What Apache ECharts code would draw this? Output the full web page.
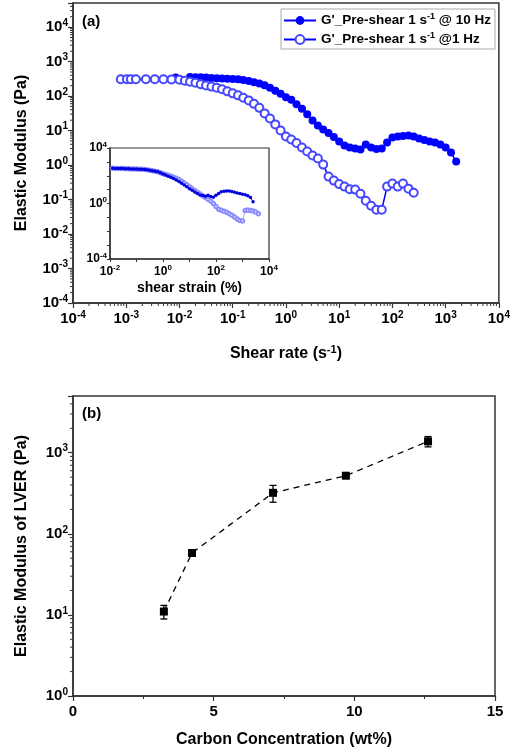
<!DOCTYPE html>
<html>
<head>
<meta charset="utf-8">
<title>Elastic modulus</title>
<script src="https://cdn.jsdelivr.net/npm/echarts@6/dist/echarts.min.js"></script>
<style>
html, body { margin: 0; padding: 0; background: #fff; }
#main { width: 513px; height: 753px; }
</style>
</head>
<body>
<div id="main"></div>
<script>
// (a) G' vs shear rate, 10 Hz (filled)
var rate10 = [0.0085, 0.0158, 0.02, 0.0251, 0.0316, 0.0398, 0.0501, 0.0631, 0.0794, 0.1, 0.126, 0.158, 0.2, 0.251, 0.316, 0.398, 0.501, 0.631, 0.794, 1, 1.26, 1.58, 2, 2.51, 3.16, 3.98, 5.01, 6.31, 7.94, 10, 12.6, 15.8, 20, 25.1, 31.6, 39.8, 50.1, 63.1, 79.4, 100, 126, 158, 200, 251, 316, 398, 501, 631, 794, 1000, 1260, 1580];
var g10 = [344, 356, 354, 351, 344, 337, 331, 326, 320, 313, 307, 291, 272, 251, 232, 206, 174, 142, 116, 92, 78, 57.5, 42.6, 29.5, 19.7, 14.1, 10.8, 8.53, 6.53, 4.83, 3.69, 3.23, 3.02, 2.83, 3.95, 3.23, 2.92, 3.02, 4.52, 6.31, 6.75, 6.98, 7.21, 6.75, 5.9, 5.34, 4.83, 4.52, 3.95, 3.23, 2.31, 1.26];
// (a) G' vs shear rate, 1 Hz (open)
var rate1 = [0.00079, 0.00103, 0.00122, 0.00152, 0.00234, 0.00344, 0.005, 0.0071, 0.01, 0.0126, 0.0158, 0.02, 0.0251, 0.0316, 0.0398, 0.0501, 0.0631, 0.0794, 0.1, 0.126, 0.158, 0.2, 0.251, 0.316, 0.398, 0.501, 0.631, 0.794, 1, 1.26, 1.58, 2, 2.51, 3.16, 3.98, 5.01, 6.31, 7.94, 10, 12.6, 15.8, 20, 25.1, 31.6, 39.8, 50.1, 63.1, 79.4, 100, 126, 158, 200, 251];
var g1 = [307, 307, 306, 307, 306, 307, 306, 305, 297, 278, 260, 243, 220, 203, 188, 174, 157, 137, 120, 105, 89, 75, 59.5, 45.5, 31.5, 22.5, 15.1, 10.1, 6.75, 5.52, 4.37, 3.23, 2.47, 1.89, 1.55, 1.03, 0.462, 0.354, 0.28, 0.237, 0.2, 0.194, 0.148, 0.0927, 0.0664, 0.0507, 0.0507, 0.237, 0.29, 0.237, 0.29, 0.207, 0.158];

// inset: G' vs shear strain
var strain10 = [0.0126, 0.0158, 0.02, 0.0251, 0.0316, 0.0398, 0.0501, 0.0631, 0.0794, 0.1, 0.126, 0.158, 0.2, 0.251, 0.316, 0.398, 0.501, 0.631, 0.794, 1, 1.26, 1.58, 2, 2.51, 3.16, 3.98, 5.01, 6.31, 7.94, 10, 12.6, 15.8, 20, 25.1, 31.6, 39.8, 50.1, 63.1, 79.4, 100, 126, 158, 200, 251, 316, 398, 501, 631, 794, 1000, 1260, 1580, 2000, 2510];
var gs10 = [344, 339, 339, 333, 328, 322, 317, 312, 307, 302, 297, 292, 287, 269, 251, 231, 213, 196, 166, 134, 113, 93, 79, 63, 49.4, 37.9, 29, 21.5, 16, 11.5, 8.93, 6.75, 5.26, 4.1, 3.78, 3.31, 3.96, 3.2, 2.8, 3.9, 5.26, 7.08, 7.69, 7.96, 7.96, 7.33, 6.41, 5.71, 5.17, 4.68, 4.31, 3.59, 2.71, 1.35];
var strain1 = [0.0126, 0.0158, 0.02, 0.0251, 0.0316, 0.0398, 0.0501, 0.0631, 0.0794, 0.1, 0.126, 0.158, 0.2, 0.251, 0.316, 0.398, 0.501, 0.631, 0.794, 1, 1.26, 1.58, 2, 2.51, 3.16, 3.98, 5.01, 6.31, 7.94, 10, 12.6, 15.8, 20, 25.1, 31.6, 39.8, 50.1, 63.1, 79.4, 100, 126, 158, 200, 251, 316, 398, 501, 631, 794, 1000, 1260, 1580, 2000, 2510, 3160, 3980];
var gs1 = [344, 339, 339, 333, 328, 322, 317, 312, 307, 302, 297, 292, 287, 269, 251, 231, 213, 196, 166, 140, 123, 108, 93, 78.6, 65.5, 52.7, 39.8, 30, 22.3, 16.3, 11.9, 8.65, 6.52, 4.84, 3.59, 2.66, 1.97, 1.47, 1, 0.608, 0.382, 0.329, 0.279, 0.236, 0.181, 0.144, 0.106, 0.0764, 0.0596, 0.0548, 0.313, 0.34, 0.313, 0.288, 0.244, 0.181];

// (b) modulus in LVER vs carbon content
var conc = [3.23, 4.23, 7.11, 9.7, 12.62];
var lver = [11, 58, 320, 520, 1380];
var lverErr = [2.1, 5, 75, 30, 200];

// log minor tick multipliers
var minorMult = [2, 3, 4, 5, 6, 7, 8, 9];

var NAME10 = "G'_Pre-shear 1 s-1 @ 10 Hz";
var NAME1 = "G'_Pre-shear 1 s-1 @1 Hz";

var FONT = '"Liberation Sans", Arial, sans-serif';
var AXIS_COLOR = '#333';

function pairs(xs, ys) {
    var out = [];
    for (var i = 0; i < xs.length; i++) {
        out.push([xs[i], ys[i]]);
    }
    return out;
}

var errData = [];
for (var i = 0; i < conc.length; i++) {
    errData.push([conc[i], lver[i] - lverErr[i], lver[i] + lverErr[i]]);
}

// minor tick values between decades fromExp..toExp, below maxVal
function logMinor(fromExp, toExp, maxVal) {
    var out = [];
    for (var e = fromExp; e < toExp; e++) {
        for (var j = 0; j < minorMult.length; j++) {
            var v = minorMult[j] * Math.pow(10, e);
            if (v < maxVal) out.push(v);
        }
    }
    return out;
}

function tickSeries(xi, yi, data, dx, dy) {
    return {
        type: 'custom', xAxisIndex: xi, yAxisIndex: yi, silent: true, z: 1,
        data: data,
        renderItem: function (params, api) {
            var p = api.coord([api.value(0), api.value(1)]);
            return {
                type: 'line',
                shape: { x1: p[0], y1: p[1], x2: p[0] + dx, y2: p[1] + dy },
                style: { stroke: AXIS_COLOR, lineWidth: 1 }
            };
        }
    };
}

// 10^n labels, every "step" decades
function powLabel(step) {
    return function (v) {
        var e = Math.log(v) / Math.LN10;
        var n = Math.round(e);
        if (Math.abs(e - n) > 1e-3) return '';
        if (n % step !== 0) return '';
        return '{b|10}{s|' + n + '}';
    };
}

function supRich(size, supSize) {
    return {
        b: { fontFamily: FONT, fontSize: size, fontWeight: 'bold', color: '#000', lineHeight: size + 3 },
        s: { fontFamily: FONT, fontSize: supSize, fontWeight: 'bold', color: '#000', verticalAlign: 'top', lineHeight: supSize + 2 }
    };
}

var nameStyle = {
    fontFamily: FONT,
    fontSize: 16,
    fontWeight: 'bold',
    color: '#000'
};

function frameAxis(extra) {
    var a = {
        axisLine: { show: true, lineStyle: { color: AXIS_COLOR, width: 1.5 } },
        axisTick: { show: true, length: 5, lineStyle: { color: AXIS_COLOR, width: 1.2 } },
        splitLine: { show: false }
    };
    for (var k in extra) a[k] = extra[k];
    return a;
}

var option = {
    animation: false,
    backgroundColor: '#fff',
    textStyle: { fontFamily: FONT },
    grid: [
        { left: 73, top: 3, width: 427, height: 300, show: true, borderColor: AXIS_COLOR, borderWidth: 1.5, backgroundColor: 'transparent' },
        { left: 110, top: 148, width: 159, height: 111, show: true, borderColor: AXIS_COLOR, borderWidth: 1.2, backgroundColor: '#fff' },
        { left: 73, top: 396, width: 422, height: 300, show: true, borderColor: AXIS_COLOR, borderWidth: 1.5, backgroundColor: 'transparent' }
    ],
    xAxis: [
        frameAxis({
            gridIndex: 0, type: 'log', logBase: 10, min: 1e-4, max: 1e4,
            axisLabel: { formatter: powLabel(1), margin: 7, rich: supRich(15, 10) },
            name: 'Shear rate (s{s|-1})', nameLocation: 'middle', nameGap: 41,
            nameTextStyle: {
                fontFamily: FONT, fontSize: 16, fontWeight: 'bold', color: '#000', lineHeight: 20,
                rich: { s: { fontFamily: FONT, fontSize: 11, fontWeight: 'bold', color: '#000', verticalAlign: 'top', lineHeight: 12 } }
            }
        }),
        frameAxis({
            gridIndex: 1, type: 'log', logBase: 10, min: 1e-2, max: 1e4,
            axisTick: { show: true, length: 3, lineStyle: { color: AXIS_COLOR } },
            axisLabel: { formatter: powLabel(2), margin: 5, rich: supRich(12, 8) },
            name: 'shear strain (%)', nameLocation: 'middle', nameGap: 22,
            nameTextStyle: { fontFamily: FONT, fontSize: 14, fontWeight: 'bold', color: '#000' }
        }),
        frameAxis({
            gridIndex: 2, type: 'value', min: 0, max: 15, interval: 5,
            minorTick: { show: true, splitNumber: 2, length: 3, lineStyle: { color: AXIS_COLOR } },
            axisLabel: { margin: 8, fontFamily: FONT, fontSize: 15, fontWeight: 'bold', color: '#000' },
            name: 'Carbon Concentration (wt%)', nameLocation: 'middle', nameGap: 36,
            nameTextStyle: nameStyle
        })
    ],
    yAxis: [
        frameAxis({
            gridIndex: 0, type: 'log', logBase: 10, min: 1e-4, max: 5e4,
            axisLabel: { formatter: powLabel(1), margin: 5, rich: supRich(15, 10) },
            name: 'Elastic Modulus (Pa)', nameLocation: 'middle', nameGap: 43,
            nameTextStyle: nameStyle
        }),
        frameAxis({
            gridIndex: 1, type: 'log', logBase: 10, min: 1e-4, max: 1e4,
            axisTick: { show: true, length: 3, lineStyle: { color: AXIS_COLOR } },
            axisLabel: { formatter: powLabel(4), margin: 3, rich: supRich(12, 8) }
        }),
        frameAxis({
            gridIndex: 2, type: 'log', logBase: 10, min: 1, max: 5e3,
            axisLabel: { formatter: powLabel(1), margin: 5, rich: supRich(15, 10) },
            name: 'Elastic Modulus of LVER (Pa)', nameLocation: 'middle', nameGap: 43,
            nameTextStyle: nameStyle
        })
    ],
    legend: {
        data: [NAME10, NAME1],
        orient: 'vertical',
        left: 281,
        top: 9,
        padding: [3, 4, 1, 2],
        itemGap: 2,
        itemWidth: 32,
        itemHeight: 11,
        borderColor: '#aaa',
        borderWidth: 1,
        backgroundColor: '#fff',
        textStyle: {
            fontFamily: FONT, fontSize: 13.5, fontWeight: 'bold', color: '#000', lineHeight: 17,
            rich: { s: { fontFamily: FONT, fontSize: 9, fontWeight: 'bold', color: '#000', verticalAlign: 'top', lineHeight: 10 } }
        },
        formatter: function (name) {
            return name.replace('s-1', 's{s|-1}');
        }
    },
    graphic: [
        { type: 'text', left: 82, top: 14, style: { text: '(a)', fontFamily: FONT, fontSize: 15, fontWeight: 'bold', fill: '#000' } },
        { type: 'text', left: 82, top: 406, style: { text: '(b)', fontFamily: FONT, fontSize: 15, fontWeight: 'bold', fill: '#000' } }
    ],
    series: [
        {
            name: NAME10, type: 'line', xAxisIndex: 0, yAxisIndex: 0,
            data: pairs(rate10, g10),
            symbol: 'circle', symbolSize: 8,
            itemStyle: { color: '#0000ff' },
            lineStyle: { color: '#0000ff', width: 1.5 }
        },
        {
            name: NAME1, type: 'line', xAxisIndex: 0, yAxisIndex: 0,
            data: pairs(rate1, g1),
            symbol: 'emptyCircle', symbolSize: 8,
            itemStyle: { color: '#4646ff', borderWidth: 1 },
            lineStyle: { color: '#0000ff', width: 1.5 }
        },
        {
            name: 'inset 10 Hz', type: 'line', xAxisIndex: 1, yAxisIndex: 1,
            data: pairs(strain10, gs10),
            symbol: 'circle', symbolSize: 3.5,
            itemStyle: { color: '#0000e0' },
            lineStyle: { color: '#0000e0', width: 1 },
            z: 4
        },
        {
            name: 'inset 1 Hz', type: 'line', xAxisIndex: 1, yAxisIndex: 1,
            data: pairs(strain1, gs1),
            symbol: 'emptyCircle', symbolSize: 3.5,
            itemStyle: { color: '#8c8cff', borderWidth: 0.8 },
            lineStyle: { color: '#8c8cff', width: 0.8 },
            z: 3
        },
        {
            name: 'LVER', type: 'line', xAxisIndex: 2, yAxisIndex: 2,
            data: pairs(conc, lver),
            symbol: 'rect', symbolSize: 8,
            itemStyle: { color: '#000' },
            lineStyle: { color: '#000', width: 1.3, type: [6, 5] },
            z: 4
        },
        {
            name: 'LVER error', type: 'custom', xAxisIndex: 2, yAxisIndex: 2,
            data: errData,
            z: 5,
            renderItem: function (params, api) {
                var x = api.value(0);
                var top = api.coord([x, api.value(2)]);
                var bot = api.coord([x, api.value(1)]);
                var w = 3.5;
                var st = { stroke: '#000', lineWidth: 1.3 };
                return {
                    type: 'group',
                    children: [
                        { type: 'line', shape: { x1: top[0], y1: top[1], x2: bot[0], y2: bot[1] }, style: st },
                        { type: 'line', shape: { x1: top[0] - w, y1: top[1], x2: top[0] + w, y2: top[1] }, style: st },
                        { type: 'line', shape: { x1: bot[0] - w, y1: bot[1], x2: bot[0] + w, y2: bot[1] }, style: st }
                    ]
                };
            }
        },
        // log minor ticks, outward
        tickSeries(0, 0, logMinor(-4, 4, 1e4).map(function (v) { return [v, 1e-4]; }), 0, 3),
        tickSeries(0, 0, logMinor(-4, 5, 5e4).map(function (v) { return [1e-4, v]; }), -3, 0),
        tickSeries(2, 2, logMinor(0, 4, 5e3).map(function (v) { return [0, v]; }), -3, 0)
    ]
};

var myChart = echarts.init(document.getElementById('main'));
myChart.setOption(option);
</script>
</body>
</html>
